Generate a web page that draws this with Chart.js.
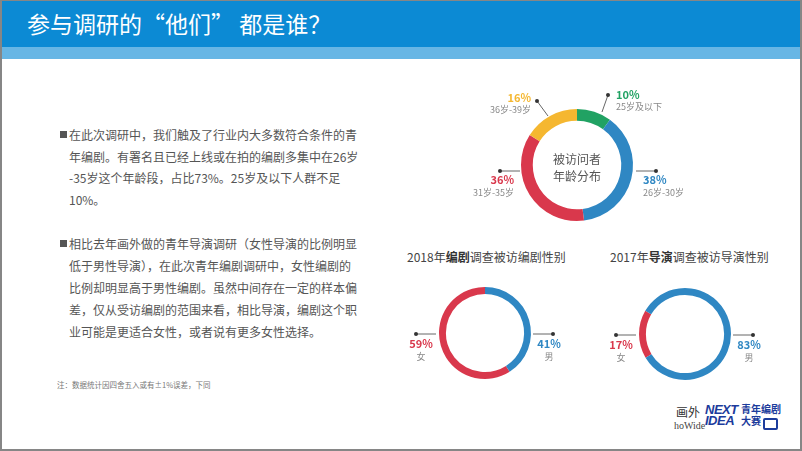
<!DOCTYPE html>
<html>
<head>
<meta charset="utf-8">
<script src="https://cdn.jsdelivr.net/npm/chart.js@4.4.1/dist/chart.umd.min.js"></script>
<style>
body { margin: 0; width: 802px; height: 451px; overflow: hidden; background: #fff;
       font-family: "Noto Sans CJK SC", "Noto Sans", sans-serif; position: relative; }
.abs { position: absolute; }
#frame { left: 0; top: 0; width: 802px; height: 451px; box-sizing: border-box;
         border: 2px solid #868686; border-top-width: 1px; z-index: 5; pointer-events: none; }
#head { left: 0; top: 0; width: 802px; height: 47px; background: #0c8ad4; }
#strip { left: 0; top: 47px; width: 802px; height: 12px; background: #67b6e5; }
#title { left: 27px; top: 7px; font-size: 23px; line-height: 32px; color: #fff; white-space: pre; }
.para { left: 69px; font-size: 12px; color: #555; white-space: nowrap; }
.bullet { width: 7px; height: 7px; background: #555; }
.sub { font-size: 12px; color: #444; white-space: nowrap; }
.sub b { font-weight: 700; color: #333; }
#note { left: 57px; top: 379px; font-size: 7.5px; color: #777; white-space: nowrap; }
canvas { position: absolute; }
</style>
</head>
<body>
<div id="head" class="abs"></div>
<div id="strip" class="abs"></div>
<div id="title" class="abs">参与调研的“他们” 都是谁？</div>

<div class="abs bullet" style="left:60px; top:131px;"></div>
<div class="abs para" style="top:124px; line-height:21.5px;">在此次调研中，我们触及了行业内大多数符合条件的青<br>年编剧。有署名且已经上线或在拍的编剧多集中在26岁<br>-35岁这个年龄段，占比73%。25岁及以下人群不足<br>10%。</div>

<div class="abs bullet" style="left:60px; top:240px;"></div>
<div class="abs para" style="top:233px; line-height:22px;">相比去年画外做的青年导演调研（女性导演的比例明显<br>低于男性导演），在此次青年编剧调研中，女性编剧的<br>比例却明显高于男性编剧。虽然中间存在一定的样本偏<br>差，仅从受访编剧的范围来看，相比导演，编剧这个职<br>业可能是更适合女性，或者说有更多女性选择。</div>

<div id="note" class="abs">注：数据统计因四舍五入或有±1%误差，下同</div>

<div class="abs sub" style="left:407px; top:248px;">2018年<b>编剧</b>调查被访编剧性别</div>
<div class="abs sub" style="left:610px; top:248px;">2017年<b>导演</b>调查被访导演性别</div>

<canvas id="ageChart" width="300" height="172" style="left:427px; top:79px;"></canvas>
<canvas id="writerChart" width="200" height="100" style="left:385px; top:283px;"></canvas>
<canvas id="directorChart" width="200" height="100" style="left:585px; top:284px;"></canvas>

<!-- logos -->
<div class="abs" style="left:676px; top:403px; font-size:12px; color:#333;">画外</div>
<div class="abs" style="left:674px; top:420px; font-size:10px; color:#444; font-family:'Liberation Serif',serif;">hoWide</div>
<div class="abs" style="left:705px; top:404px; font-family:'Liberation Sans',sans-serif; font-style:italic; font-weight:900; font-size:13px; line-height:11px; color:#1c3c9c; letter-spacing:-0.5px;">NEXT<br>IDEA</div>
<div class="abs" style="left:741px; top:403px; font-size:10px; font-weight:700; line-height:12px; color:#1c3c9c;">青年编剧<br>大赛</div>
<div class="abs" style="left:763px; top:418px; width:11px; height:8px; border:2px solid #1c3c9c; border-radius:2px;"></div>

<div id="frame" class="abs"></div>

<script>
'use strict';

var ageLabels = ['25岁及以下', '26岁-30岁', '31岁-35岁', '36岁-39岁'];
var ageValues = [10, 38, 36, 16];
var ageColors = ['#21a263', '#2f87c3', '#d9384c', '#f5b730'];

var genderLabels = ['女', '男'];
var writers2018 = [59, 41];
var directors2017 = [17, 83];
var genderColors = ['#d9384c', '#2f87c3'];

var FONT = '"Noto Sans CJK SC", "Noto Sans", sans-serif';

// leader lines, dots and value labels around a doughnut
var callouts = {
    id: 'callouts',
    afterDraw: function (chart, args, opts) {
        var arc = chart.getDatasetMeta(0).data[0];
        var cx = arc.x, cy = arc.y;
        var ds = chart.data.datasets[0];
        var ctx = chart.ctx;
        ctx.save();
        (opts.items || []).forEach(function (it) {
            ctx.strokeStyle = '#666';
            ctx.lineWidth = 1;
            ctx.beginPath();
            ctx.moveTo(cx + it.line[0], cy + it.line[1]);
            ctx.lineTo(cx + it.line[2], cy + it.line[3]);
            ctx.stroke();
            ctx.fillStyle = '#333';
            ctx.beginPath();
            ctx.arc(cx + it.line[2], cy + it.line[3], 2, 0, Math.PI * 2);
            ctx.fill();

            ctx.textAlign = it.align;
            ctx.textBaseline = 'middle';
            ctx.fillStyle = ds.backgroundColor[it.i];
            ctx.font = 'bold 11px ' + FONT;
            ctx.fillText(ds.data[it.i] + '%', cx + it.tx, cy + it.ty);
            ctx.fillStyle = '#888';
            ctx.font = '9px ' + FONT;
            ctx.fillText(chart.data.labels[it.i], cx + it.tx, cy + it.sy);
        });
        if (opts.center) {
            ctx.fillStyle = '#555';
            ctx.font = '12px ' + FONT;
            ctx.textAlign = 'center';
            ctx.textBaseline = 'middle';
            ctx.fillText(opts.center[0], cx, cy - 6);
            ctx.fillText(opts.center[1], cx, cy + 11);
        }
        ctx.restore();
    }
};

function ring(id, labels, values, colors, cutout, rotation, pad, plugOpts) {
    var ctx = document.getElementById(id).getContext('2d');
    return new Chart(ctx, {
        type: 'doughnut',
        data: {
            labels: labels,
            datasets: [{
                data: values,
                backgroundColor: colors,
                borderWidth: 0,
                hoverOffset: 0
            }]
        },
        options: {
            responsive: false,
            animation: false,
            events: [],
            cutout: cutout,
            rotation: rotation,
            layout: { padding: pad },
            plugins: {
                legend: { display: false },
                tooltip: { enabled: false },
                callouts: plugOpts
            }
        },
        plugins: [callouts]
    });
}

ring('ageChart', ageLabels, ageValues, ageColors, '79%', 0,
    { left: 94, right: 94, top: 30, bottom: 30 },
    {
        center: ['被访问者', '年龄分布'],
        items: [
            { i: 0, line: [25, -53, 31, -70], align: 'left', tx: 39, ty: -70, sy: -58 },
            { i: 1, line: [59, 6, 79, 6], align: 'left', tx: 66, ty: 15, sy: 28 },
            { i: 2, line: [-57, 6, -77, 6], align: 'right', tx: -63, ty: 15, sy: 28 },
            { i: 3, line: [-29, -49, -40, -64], align: 'right', tx: -46, ty: -67, sy: -55 }
        ]
    });

var genderItems = [
    { i: 0, line: [-49, 1, -69, 1], align: 'center', tx: -64, ty: 11, sy: 24 },
    { i: 1, line: [48, 1, 68, 1], align: 'center', tx: 64, ty: 11, sy: 24 }
];

ring('writerChart', genderLabels, writers2018, genderColors, '85%', 147.6,
    { left: 54, right: 54, top: 4, bottom: 4 }, { items: genderItems });

ring('directorChart', genderLabels, directors2017, genderColors, '85%', 239,
    { left: 54, right: 54, top: 4, bottom: 4 }, { items: genderItems });
</script>
</body>
</html>
